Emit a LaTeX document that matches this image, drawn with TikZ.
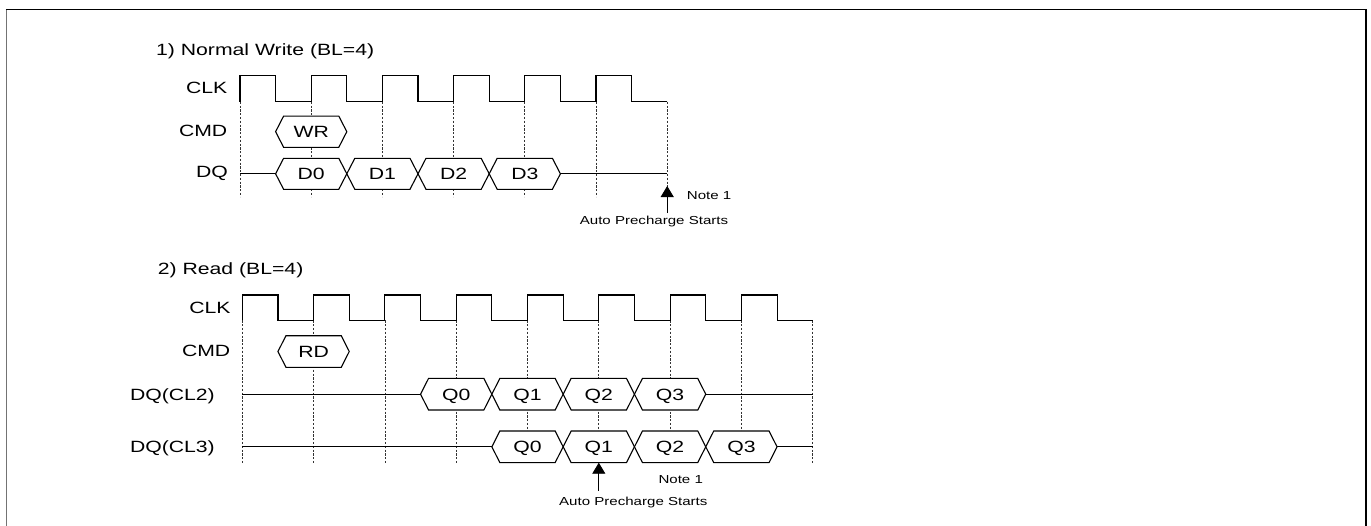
\documentclass[tikz,border=0pt]{standalone}
\usepackage{graphicx}
\usepackage{fontspec}
\setmainfont{Liberation Sans}
\usetikzlibrary{arrows.meta}
\newcommand\bigt[1]{{\fontsize{16.3}{19}\selectfont\scalebox{1.3}[1]{#1}}}
\newcommand\smlt[1]{{\fontsize{11.6}{14}\selectfont\scalebox{1.3}[1]{#1}}}
\newcommand\mkhex[6]{% cx, cy, half width, half height, text, name
  \draw[wave,fill=white] ({#1-#3},#2) -- ({#1-#3+8},{#2-#4}) -- ({#1+#3-8},{#2-#4})
     -- ({#1+#3},#2) -- ({#1+#3-8},{#2+#4}) -- ({#1-#3+8},{#2+#4}) -- cycle;
  \node[lbl] (#6) at (#1,#2) {\bigt{#5}};}
\begin{document}
\begin{tikzpicture}[x=1pt,y=-1pt,
  wave/.style={line width=1.1pt,black,line join=miter},
  gridline/.style={line width=0.8pt,black!80,dash pattern=on 2.2pt off 1.6pt},
  lbl/.style={inner sep=0pt,text height=11.7pt,text depth=0pt},
  lblr/.style={lbl,anchor=east},
  title/.style={lbl,anchor=west},
  note/.style={inner sep=0pt,text height=8.3pt,text depth=0pt},
  upar/.style={line width=0.9pt,-{Triangle[width=13pt,length=11pt]}},
  frame/.style={line width=1.3pt}]
\useasboundingbox (0,0) rectangle (1371,525);
% frame
\draw[frame,black!55] (6.5,530) -- (6.5,9.3);
\draw[frame] (5.9,9.3) -- (1366,9.3) -- (1366,530);

% ---------------- 1) Normal Write ----------------
\node[title] (t1) at (156,50) {\bigt{1) Normal Write (BL=4)}};
\node[lblr] (clk1) at (227.5,87.5) {\bigt{CLK}};
\node[lblr] (cmd1) at (227.5,130.2) {\bigt{CMD}};
\node[lblr] (dq1) at (228,171.7) {\bigt{DQ}};
\foreach \k in {0,...,6}
  \draw[gridline] ({240+71.2*\k},101.7) -- ({240+71.2*\k},196.7);
\draw[wave] (240,101.7)
  \foreach \k in {0,...,5} { -- ({240+71.2*\k},75.7) -- ({240+71.2*\k+35.6},75.7)
     -- ({240+71.2*\k+35.6},101.7) -- ({240+71.2*(\k+1)},101.7) };
\draw[wave] (240,173.8) -- (275.6,173.8);
\draw[wave] (560.4,173.8) -- (667.2,173.8);
\mkhex{311.2}{131.7}{35.6}{15.6}{WR}{wr}
\mkhex{311.2}{173.8}{35.6}{15.5}{D0}{d0}
\mkhex{382.4}{173.8}{35.6}{15.5}{D1}{d1}
\mkhex{453.6}{173.8}{35.6}{15.5}{D2}{d2}
\mkhex{524.8}{173.8}{35.6}{15.5}{D3}{d3}
\coordinate (a1t) at (667.2,186);
\coordinate (a1b) at (667.2,213);
\draw[upar] (a1b) -- (a1t);
\node[note,anchor=west] (n1) at (686.7,195.3) {\smlt{Note 1}};
\node[note] (ap1) at (654,220.8) {\smlt{Auto Precharge Starts}};

% ---------------- 2) Read ----------------
\node[title] (t2) at (157.7,268.8) {\bigt{2) Read (BL=4)}};
\node[lblr] (clk2) at (230.7,307.5) {\bigt{CLK}};
\node[lblr] (cmd2) at (230.5,351) {\bigt{CMD}};
\node[lblr] (dqa) at (215,394.2) {\bigt{DQ(CL2)}};
\node[lblr] (dqb) at (215,447) {\bigt{DQ(CL3)}};
\foreach \k in {0,...,8}
  \draw[gridline] ({242.3+71.3*\k},320.3) -- ({242.3+71.3*\k},462.7);
\draw[wave] (242.3,320.3)
  \foreach \k in {0,...,7} { -- ({242.3+71.3*\k},295) -- ({242.3+71.3*\k+35.65},295)
     -- ({242.3+71.3*\k+35.65},320.3) -- ({242.3+71.3*(\k+1)},320.3) };
\mkhex{313.6}{351.5}{35.65}{15.8}{RD}{rd}
% CL2
\draw[wave] (242.3,394.2) -- (420.55,394.2);
\draw[wave] (705.75,394.2) -- (812.7,394.2);
\mkhex{456.2}{394.2}{35.65}{15.8}{Q0}{qa0}
\mkhex{527.5}{394.2}{35.65}{15.8}{Q1}{qa1}
\mkhex{598.8}{394.2}{35.65}{15.8}{Q2}{qa2}
\mkhex{670.1}{394.2}{35.65}{15.8}{Q3}{qa3}
% CL3
\draw[wave] (242.3,446.8) -- (491.85,446.8);
\draw[wave] (777.05,446.8) -- (812.7,446.8);
\mkhex{527.5}{446.8}{35.65}{15.8}{Q0}{qb0}
\mkhex{598.8}{446.8}{35.65}{15.8}{Q1}{qb1}
\mkhex{670.1}{446.8}{35.65}{15.8}{Q2}{qb2}
\mkhex{741.4}{446.8}{35.65}{15.8}{Q3}{qb3}
\coordinate (a2t) at (598.8,462.7);
\coordinate (a2b) at (598.8,490.7);
\draw[upar] (a2b) -- (a2t);
\node[note,anchor=west] (n2) at (658.3,479) {\smlt{Note 1}};
\node[note] (ap2) at (633.3,501) {\smlt{Auto Precharge Starts}};
\end{tikzpicture}
\end{document}
